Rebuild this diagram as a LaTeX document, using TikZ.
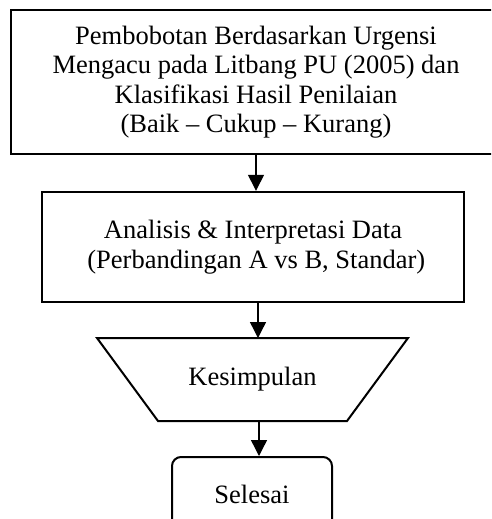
\documentclass[tikz,border=0pt]{standalone}
\usepackage{fontspec}
\setmainfont{Liberation Serif}
\usetikzlibrary{arrows.meta}
\begin{document}
\begin{tikzpicture}[x=1pt,y=-1pt,
  txt/.style={font=\fontsize{26.5}{29.5}\selectfont, align=center, inner sep=0pt},
  boxa/.style={txt, draw, line width=2.4pt, rectangle},
  trapline/.style={draw, line width=2pt, line join=miter},
  term/.style={txt, draw, line width=2pt, rectangle, rounded corners=9pt},
  arr/.style={line width=1.4pt, -{Triangle[width=16pt,length=16pt]}}]
\useasboundingbox (0,0) rectangle (491,519);
\clip (0,0) rectangle (491,519);
\node[boxa, minimum width=490pt, minimum height=144pt] (a) at (256,82)
  {Pembobotan Berdasarkan Urgensi\\Mengacu pada Litbang PU (2005) dan\\Klasifikasi Hasil Penilaian\\(Baik -- Cukup -- Kurang)};
\node[boxa, minimum width=422pt, minimum height=110pt] (b) at (253,247)
  {Analisis \& Interpretasi Data\\\ (Perbandingan A vs B, Standar)};
\coordinate (ctl) at (97,338);
\coordinate (ctr) at (408,338);
\coordinate (cbr) at (347,421);
\coordinate (cbl) at (158,421);
\draw[trapline] (ctl) -- (ctr) -- (cbr) -- (cbl) -- cycle;
\node[txt] (c) at (252.5,379.5) {Kesimpulan};
\node[term, minimum width=160pt, minimum height=75pt] (d) at (252,494.5) {Selesai};
\draw[arr] (a.south) -- (a.south |- b.north);
\draw[arr] ([xshift=5pt]b.south) -- ([xshift=5pt]b.south |- ctl);
\draw[arr] ([xshift=6.5pt]c.south |- cbl) -- ([xshift=6.5pt]c.south |- d.north);
\end{tikzpicture}
\end{document}
